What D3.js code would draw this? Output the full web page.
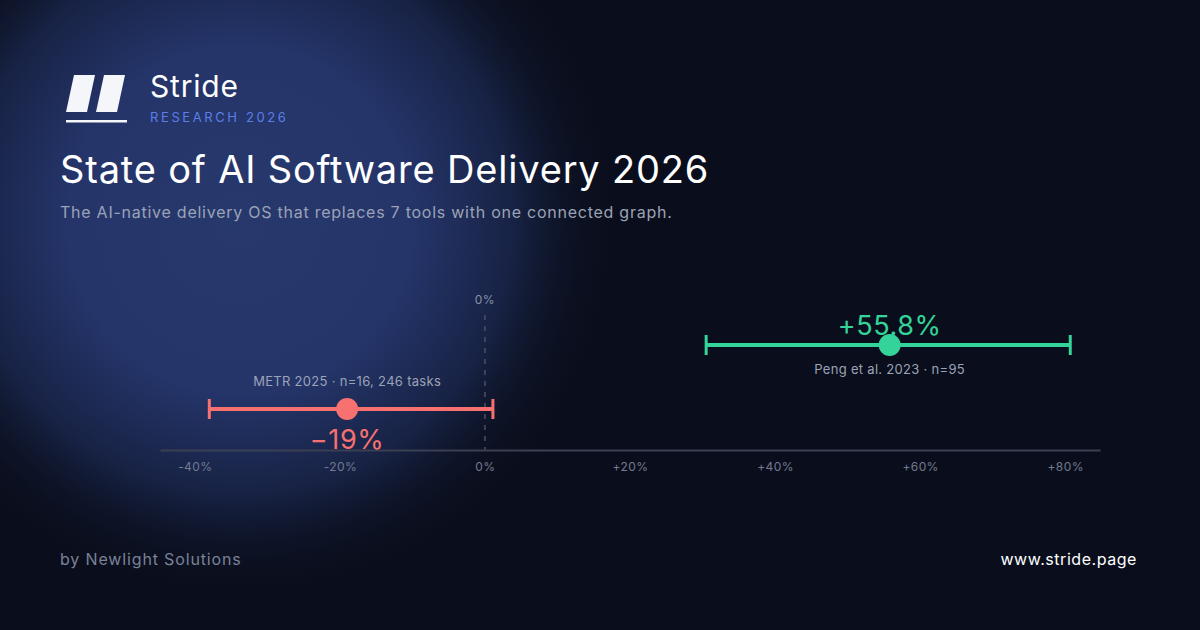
<!DOCTYPE html>
<html><head><meta charset="utf-8">
<script src="https://cdn.jsdelivr.net/npm/d3@7"></script>
<style>html,body{margin:0;padding:0;background:#0a0e1c;}svg{display:block;font-family:Inter,"Noto Sans",sans-serif;}</style>
</head><body>
<svg id="c" width="1200" height="630"></svg>
<script>
const studies = ["METR 2025 · n=16, 246 tasks", "Peng et al. 2023 · n=95"];
const effects = [-19, 55.8];
const lows = [-38, 30.5];
const highs = [1.1, 80.7];
const effectLabels = ["−19%", "+55.8%"];
const tickValues = [-40, -20, 0, 20, 40, 60, 80];
const tickLabels = ["-40%", "-20%", "0%", "+20%", "+40%", "+60%", "+80%"];
const colors = ["#f87171", "#34d399"];

const svg = d3.select("#c");
const defs = svg.append("defs");
const rg = defs.append("radialGradient").attr("id","glow").attr("gradientUnits","userSpaceOnUse")
  .attr("cx",240).attr("cy",220).attr("r",380);
rg.append("stop").attr("offset","0%").attr("stop-color","#27386d");
rg.append("stop").attr("offset","45%").attr("stop-color","#25356a");
rg.append("stop").attr("offset","72%").attr("stop-color","#172244");
rg.append("stop").attr("offset","100%").attr("stop-color","#0a0e1c").attr("stop-opacity",0);
svg.append("rect").attr("width",1200).attr("height",630).attr("fill","#0a0e1c");
svg.append("rect").attr("width",1200).attr("height",630).attr("fill","url(#glow)");

// logo
const logo = svg.append("g").attr("fill","#f5f6fa");
logo.append("path").attr("d","M74,75 L95,75 L87,112 L66,112 Z");
logo.append("path").attr("d","M104,75 L125,75 L117,112 L96,112 Z");
logo.append("rect").attr("x",66).attr("y",120).attr("width",61).attr("height",2.5);
svg.append("text").attr("x",150).attr("y",97).attr("fill","#ffffff").attr("font-size",30).attr("font-weight",400).attr("letter-spacing",0.8).text("Stride");
svg.append("text").attr("x",150).attr("y",122).attr("fill","#5b7ee8").attr("font-size",13).attr("letter-spacing",2.6).text("RESEARCH 2026");

svg.append("text").attr("x",60).attr("y",183).attr("fill","#ffffff").attr("font-size",38).attr("font-weight",400).attr("letter-spacing",0.82).text("State of AI Software Delivery 2026");
svg.append("text").attr("x",60).attr("y",218).attr("fill","#9ba3b7").attr("font-size",16).attr("letter-spacing",0.75).text("The AI-native delivery OS that replaces 7 tools with one connected graph.");

svg.append("text").attr("x",60).attr("y",565).attr("fill","#7a8298").attr("font-size",16).attr("letter-spacing",0.85).text("by Newlight Solutions");
svg.append("text").attr("x",1137).attr("y",565).attr("text-anchor","end").attr("fill","#ffffff").attr("font-size",16).attr("letter-spacing",0.55).text("www.stride.page");

// chart
const x = d3.scaleLinear().domain([-44.8, 84.8]).range([160, 1100]);
const axisY = 450;
const y = d3.scalePoint().domain(studies).range([409, 345]);

// zero line
svg.append("line").attr("x1",x(0)).attr("x2",x(0)).attr("y1",315).attr("y2",axisY)
  .attr("stroke","#4a5064").attr("stroke-width",1.5).attr("stroke-dasharray","5,6");
svg.append("text").attr("x",x(0)).attr("y",304).attr("text-anchor","middle").attr("fill","#8a91a5").attr("font-size",12).attr("letter-spacing",0.4).text("0%");

const axis = d3.axisBottom(x).tickValues(tickValues).tickFormat((d,i)=>tickLabels[i]).tickSize(0).tickPadding(12);
const ag = svg.append("g").attr("transform",`translate(0,${axisY})`).call(axis);
ag.select(".domain").attr("stroke","#3a3f52").attr("stroke-width",2);
ag.selectAll("text").attr("fill","#727a8f").attr("font-size",12).attr("letter-spacing",0.4).attr("font-family","Inter, sans-serif");

const rows = svg.selectAll("g.row").data(studies).join("g").attr("class","row");
rows.append("line").attr("x1",(d,i)=>x(lows[i])).attr("x2",(d,i)=>x(highs[i]))
  .attr("y1",d=>y(d)).attr("y2",d=>y(d)).attr("stroke",(d,i)=>colors[i]).attr("stroke-width",4);
rows.append("line").attr("x1",(d,i)=>x(lows[i])).attr("x2",(d,i)=>x(lows[i]))
  .attr("y1",d=>y(d)-10).attr("y2",d=>y(d)+10).attr("stroke",(d,i)=>colors[i]).attr("stroke-width",3);
rows.append("line").attr("x1",(d,i)=>x(highs[i])).attr("x2",(d,i)=>x(highs[i]))
  .attr("y1",d=>y(d)-10).attr("y2",d=>y(d)+10).attr("stroke",(d,i)=>colors[i]).attr("stroke-width",3);
rows.append("text").attr("x",(d,i)=>x(effects[i])).attr("y",(d,i)=>i===0?y(d)+40:y(d)-10)
  .attr("text-anchor","middle").attr("fill",(d,i)=>colors[i]).attr("font-size",27).attr("letter-spacing",0.6).text((d,i)=>effectLabels[i]);
rows.append("circle").attr("cx",(d,i)=>x(effects[i])).attr("cy",d=>y(d)).attr("r",11).attr("fill",(d,i)=>colors[i]);
rows.append("text").attr("x",(d,i)=>x(effects[i])).attr("y",(d,i)=>i===0?y(d)-23:y(d)+29)
  .attr("text-anchor","middle").attr("fill","#9ba3b7").attr("font-size",13).attr("letter-spacing",0.3).text(d=>d);
</script>
</body></html>
